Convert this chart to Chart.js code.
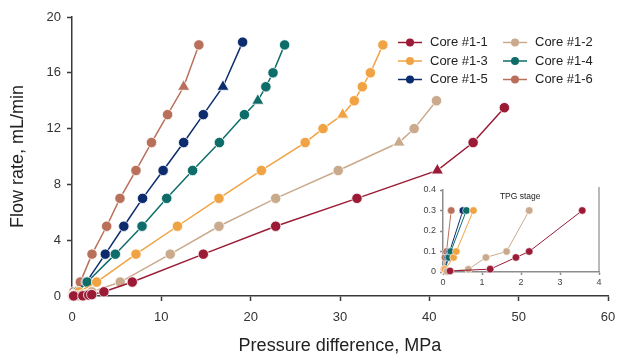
<!DOCTYPE html>
<html>
<head>
<meta charset="utf-8">
<script src="https://cdn.jsdelivr.net/npm/chart.js@4/dist/chart.umd.min.js"></script>
<style>
    html, body { margin: 0; padding: 0; background: #fff; }
    #wrap { position: relative; width: 619px; height: 357px; }
    #mainChart { position: absolute; left: 0; top: 0; }
    #insetChart { position: absolute; left: 415px; top: 180px; }
</style>
</head>
<body>
<div id="wrap">
    <canvas id="mainChart" width="619" height="357"></canvas>
    <canvas id="insetChart" width="195" height="114"></canvas>
</div>
<script>
// Series data (x = pressure difference MPa, y = flow rate mL/min)
const seriesNames = ['Core #1-1', 'Core #1-2', 'Core #1-3', 'Core #1-4', 'Core #1-5', 'Core #1-6'];

const core11X = [0.18, 1.21, 1.87, 2.21, 3.57, 6.75, 14.7, 22.8, 31.9, 40.9, 44.9, 48.4];
const core11Y = [0.005, 0.014, 0.071, 0.1, 0.3, 1, 3, 5, 7, 9, 11, 13.5];

const core12X = [0.1, 0.65, 1.10, 1.63, 2.21, 5.4, 11.0, 16.45, 22.8, 29.8, 36.6, 38.3, 40.8];
const core12Y = [0.003, 0.013, 0.071, 0.1, 0.3, 1, 3, 5, 7, 9, 11, 12, 14];

const core13X = [0.05, 0.27, 0.34, 0.78, 2.76, 7.16, 11.8, 16.45, 21.2, 26.1, 28.1, 30.3, 31.6, 32.5, 33.4, 34.8];
const core13Y = [0.013, 0.071, 0.1, 0.3, 1, 3, 5, 7, 9, 11, 12, 13, 14, 15, 16, 18];

const core14X = [0.05, 0.15, 0.2, 0.6, 1.7, 4.85, 7.84, 10.6, 13.5, 16.5, 19.3, 20.8, 21.7, 22.5, 23.8];
const core14Y = [0.013, 0.071, 0.1, 0.3, 1, 3, 5, 7, 9, 11, 13, 14, 15, 16, 18];

const core15X = [0.05, 0.12, 0.17, 0.51, 1.6, 3.73, 5.8, 7.9, 10.2, 12.5, 14.7, 16.9, 19.1];
const core15Y = [0.013, 0.071, 0.1, 0.3, 1, 3, 5, 7, 9, 11, 13, 15, 18.2];

const core16X = [0.03, 0.05, 0.09, 0.21, 0.93, 2.24, 3.88, 5.37, 7.16, 8.9, 10.7, 12.5, 14.2];
const core16Y = [0.013, 0.071, 0.1, 0.3, 1, 3, 5, 7, 9, 11, 13, 15, 18];

// tick labels
const xTicks = [0, 10, 20, 30, 40, 50, 60];
const yTicks = [0, 4, 8, 12, 16, 20];
const insetXTicks = [0, 1, 2, 3, 4];
const insetYTicks = [0, 0.1, 0.2, 0.3, 0.4];

const tpgLimit = 0.3;   // points shown in the inset (TPG stage)

// styling
const colors = ['#9b1b36', '#c9aa8c', '#f0a343', '#0f6d69', '#0c2c6d', '#b9705a'];
const triangleAt = [9, 10, 11, 11, 11, 11];
const FONT = "Arial, 'Liberation Sans', sans-serif";
const AXIS = '#3a3a3a';

const allX = [core11X, core12X, core13X, core14X, core15X, core16X];
const allY = [core11Y, core12Y, core13Y, core14Y, core15Y, core16Y];

function toPoints(xs, ys, maxY) {
    const pts = [];
    for (let i = 0; i < xs.length; i++) {
        if (maxY === undefined || ys[i] <= maxY) pts.push({ x: xs[i], y: ys[i] });
    }
    return pts;
}

function buildDatasets(inset) {
    return seriesNames.map(function(name, i) {
        return {
            label: name,
            data: toPoints(allX[i], allY[i], inset ? tpgLimit : undefined),
            borderColor: colors[i],
            backgroundColor: colors[i],
            borderWidth: inset ? 1 : 1.5,
            pointBackgroundColor: colors[i],
            pointBorderColor: '#ffffff',
            pointBorderWidth: inset ? 0.6 : 0.8,
            pointRadius: function(ctx) {
                if (inset) return 3.8;
                return ctx.dataIndex === triangleAt[i] ? 7 : 5.2;
            },
            pointStyle: function(ctx) {
                return (!inset && ctx.dataIndex === triangleAt[i]) ? 'triangle' : 'circle';
            },
            tension: 0,
            clip: inset ? 6 : false
        };
    });
}

// Legend drawn in two columns in the top-right of the plot
const cornerLegend = {
    id: 'cornerLegend',
    afterDraw(chart) {
        const ctx = chart.ctx;
        ctx.save();
        chart.data.datasets.forEach(function(ds, i) {
            const col = i % 2, row = Math.floor(i / 2);
            const x0 = 398 + col * 105;
            const y0 = 42.5 + row * 18.5;
            ctx.strokeStyle = ds.borderColor;
            ctx.lineWidth = 1.5;
            ctx.beginPath();
            ctx.moveTo(x0, y0);
            ctx.lineTo(x0 + 24, y0);
            ctx.stroke();
            ctx.fillStyle = ds.borderColor;
            ctx.beginPath();
            ctx.arc(x0 + 12, y0, 4, 0, Math.PI * 2);
            ctx.fill();
            ctx.fillStyle = '#222';
            ctx.font = '13px ' + FONT;
            ctx.textBaseline = 'middle';
            ctx.textAlign = 'left';
            ctx.fillText(ds.label, x0 + 32, y0);
        });
        ctx.restore();
    }
};

// Inset extras: title and right-side frame line
const insetDecor = {
    id: 'insetDecor',
    afterDraw(chart) {
        const a = chart.chartArea;
        const ctx = chart.ctx;
        ctx.save();
        ctx.strokeStyle = '#8c8c8c';
        ctx.lineWidth = 1.2;
        ctx.beginPath();
        ctx.moveTo(a.right, a.top - 3);
        ctx.lineTo(a.right, a.bottom);
        ctx.stroke();
        ctx.fillStyle = '#222';
        ctx.font = '8.5px ' + FONT;
        ctx.textAlign = 'center';
        ctx.textBaseline = 'middle';
        ctx.fillText('TPG stage', a.left + (a.right - a.left) * 0.495, a.top + 7);
        ctx.restore();
    }
};

function makeScale(min, max, ticks, opts) {
    return {
        type: 'linear',
        min: min,
        max: max,
        afterBuildTicks: function(scale) {
            scale.ticks = ticks.map(function(v) { return { value: v }; });
        },
        afterFit: opts.fit,
        ticks: {
            color: opts.labelColor,
            font: { family: FONT, size: opts.fontSize },
            padding: opts.pad,
            maxRotation: 0,
            autoSkip: false,
            callback: function(v) { return String(v); }
        },
        grid: {
            drawOnChartArea: false,
            drawTicks: true,
            tickLength: opts.tickLen,
            tickColor: opts.axisColor,
            tickWidth: opts.axisWidth
        },
        border: { display: true, color: opts.axisColor, width: opts.axisWidth },
        title: opts.title
    };
}

// fixed scale sizes so the plot area lands where the figure has it
function fitX(h) {
    return function(s) { s.height = h; s.paddingLeft = 0; s.paddingRight = 0; };
}
function fitY(w) {
    return function(s) { s.width = w; s.paddingTop = 0; s.paddingBottom = 0; };
}

Chart.defaults.font.family = FONT;
Chart.defaults.animation = false;

new Chart(document.getElementById('mainChart'), {
    type: 'line',
    data: { datasets: buildDatasets(false) },
    options: {
        responsive: false,
        layout: { padding: { top: 17, right: 11, left: 0, bottom: 0 } },
        plugins: { legend: { display: false }, tooltip: { enabled: false } },
        scales: {
            x: makeScale(0, 60, xTicks, {
                fit: fitX(61),
                labelColor: '#333', fontSize: 13, pad: 9, tickLen: 5,
                axisColor: AXIS, axisWidth: 1.5,
                title: { display: true, text: 'Pressure difference, MPa', color: '#222',
                         font: { family: FONT, size: 18 }, padding: { top: 0, bottom: 0 } }
            }),
            y: makeScale(0, 20, yTicks, {
                fit: fitY(72),
                labelColor: '#333', fontSize: 13, pad: 6, tickLen: 5,
                axisColor: AXIS, axisWidth: 1.5,
                title: { display: true, text: 'Flow rate, mL/min', color: '#222',
                         font: { family: FONT, size: 18 }, padding: { top: 7, bottom: 0 } }
            })
        }
    },
    plugins: [cornerLegend]
});

new Chart(document.getElementById('insetChart'), {
    type: 'line',
    data: { datasets: buildDatasets(true) },
    options: {
        responsive: false,
        layout: { padding: { top: 10, right: 11, left: 0, bottom: 0 } },
        plugins: { legend: { display: false }, tooltip: { enabled: false } },
        scales: {
            x: makeScale(0, 4, insetXTicks, {
                fit: fitX(22),
                labelColor: '#444', fontSize: 9, pad: 2, tickLen: 3,
                axisColor: '#8c8c8c', axisWidth: 1.5,
                title: { display: false }
            }),
            y: makeScale(0, 0.4, insetYTicks, {
                fit: fitY(28),
                labelColor: '#444', fontSize: 9, pad: 4, tickLen: 3,
                axisColor: '#8c8c8c', axisWidth: 1.5,
                title: { display: false }
            })
        }
    },
    plugins: [insetDecor]
});

console.log('charts drawn');
</script>
</body>
</html>
